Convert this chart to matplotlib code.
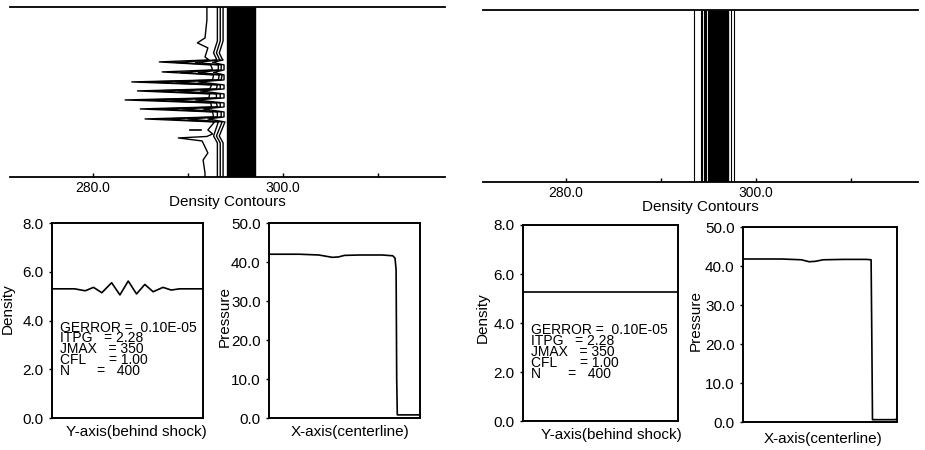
import matplotlib
matplotlib.use('Agg')
import matplotlib.pyplot as plt

plt.rcParams['font.family'] = ['Liberation Sans', 'DejaVu Sans']

# ---- top panels: density contours (x in grid units, y in rows 0..170)
contour_ticks = [280, 300]
contour_minor = [290, 310]

# left panel, wiggly contours ahead of the shock
left_outer_x = [292.0, 292.0, 291.8, 291.0, 292.1, 291.8, 292.2, 287.0, 292.4, 292.6, 287.3, 292.7,
                292.6, 284.1, 292.5, 292.3, 284.7, 292.3, 292.2, 283.4, 292.4, 292.5, 285.0, 292.6,
                292.7, 285.5, 292.8, 292.1, 292.6, 292.0, 289.0, 291.5, 291.8, 292.1, 291.6, 291.8, 291.8]
left_outer_y = [170, 157, 139, 134, 129, 120, 117, 115, 112, 107, 105, 102, 97, 95, 92, 88, 86, 83,
                79, 77, 74, 70, 68, 65, 60, 58, 55, 47, 43, 40.5, 39, 36, 30, 24, 17, 4, 0]

inner_y = [170, 136, 124, 118, 117, 114.5, 112, 107, 104.5, 102, 97, 95, 92, 88, 86, 83,
           79, 77, 74, 70, 68, 65, 60, 58, 55, 41, 34, 0]
inner1_x = [293.1, 293.1, 292.7, 293.0, 293.0, 288.7, 293.2, 293.2, 289.2, 293.3, 293.2, 286.0, 293.1, 293.0,
            286.6, 293.0, 293.0, 285.5, 293.0, 293.1, 287.1, 293.1, 293.1, 287.6, 293.2, 292.7, 293.1, 293.1]
inner2_x = [293.4, 293.4, 293.0, 293.3, 293.4, 290.8, 293.5, 293.5, 291.1, 293.6, 293.5, 288.7, 293.4, 293.4,
            289.0, 293.4, 293.4, 288.1, 293.4, 293.4, 289.4, 293.5, 293.5, 290.0, 293.6, 293.0, 293.4, 293.4]
inner3_x = [293.7, 293.7, 293.3, 293.6, 293.7, 292.6, 293.8, 293.8, 292.7, 293.8, 293.8, 291.1, 293.8, 293.8,
            291.3, 293.8, 293.8, 290.8, 293.8, 293.8, 291.6, 293.8, 293.8, 292.1, 293.9, 293.3, 293.7, 293.7]
island_x = [290.2, 291.4]
island_y = [47, 47]

left_band_x = [294.1, 294.2, 294.3, 294.4, 294.5, 294.6, 294.7, 294.8, 294.9, 295.0, 295.1, 295.2,
               295.3, 295.4, 295.5, 295.6, 295.7, 295.8, 295.9, 296.0, 296.1, 296.2, 296.3, 296.4,
               296.5, 296.6, 296.7, 296.8, 296.9, 297.0, 297.1]

# right panel, straight contours
right_edge_x = [293.5, 294.2, 294.35, 294.5, 294.65, 294.8, 294.95, 297.4, 297.75]
right_band_x = [295.1, 295.2, 295.3, 295.4, 295.5, 295.6, 295.7, 295.8, 295.9, 296.0, 296.1, 296.2,
                296.3, 296.4, 296.5, 296.6, 296.7, 296.8, 296.9, 297.0, 297.1]

# ---- bottom panels
dens_ticks = [0, 2, 4, 6, 8]
dens_ticklabels = ['0.0', '2.0', '4.0', '6.0', '8.0']
pres_ticks = [0, 10, 20, 30, 40, 50]
pres_ticklabels = ['0.0', '10.0', '20.0', '30.0', '40.0', '50.0']

dens_left_x = [0, 15, 22, 27.5, 33, 39.5, 45, 50.5, 56, 61.5, 67, 73.5, 79, 84.5, 100]
dens_left_y = [5.30, 5.30, 5.22, 5.36, 5.14, 5.55, 5.05, 5.62, 5.09, 5.48, 5.18, 5.36, 5.25, 5.30, 5.30]
dens_right_x = [0, 100]
dens_right_y = [5.27, 5.27]

pres_left_x = [0, 20, 33, 42, 46, 50, 60, 75, 82, 83.5, 84.2, 84.6, 85.0, 100]
pres_left_y = [42.0, 42.0, 41.8, 41.2, 41.3, 41.7, 41.8, 41.8, 41.6, 41.0, 38.0, 10.0, 0.8, 0.8]
pres_right_x = [0, 25, 38, 43, 47, 52, 65, 80, 83.2, 83.7, 84.1, 99, 100]
pres_right_y = [41.8, 41.8, 41.6, 41.1, 41.2, 41.6, 41.7, 41.7, 41.6, 20.0, 0.6, 0.6, 0.9]

param_lines = ['GERROR =  0.10E-05',
               'ITPG   = 2.28',
               'JMAX   = 350',
               'CFL      = 1.00',
               'N       =   400']

fig = plt.figure(figsize=(9.25, 4.5), dpi=100)

def contour_axes(rect):
    ax = fig.add_axes(rect)
    ax.set_xlim(271.3, 317.0)
    ax.set_ylim(0, 170)
    for s in ['left', 'right']:
        ax.spines[s].set_visible(False)
    for s in ['top', 'bottom']:
        ax.spines[s].set_linewidth(1.3)
    ax.set_yticks([])
    ax.set_xticks(contour_ticks)
    ax.set_xticklabels(['%.1f' % t for t in contour_ticks], fontsize=10)
    ax.set_xticks(contour_minor, minor=True)
    ax.tick_params(axis='x', which='both', direction='in', length=3, width=1, pad=3)
    ax.set_xlabel('Density Contours', fontsize=11, labelpad=0)
    return ax

ax1 = contour_axes([0.0108, 0.6067, 0.470, 0.378])
ax1.plot(left_outer_x, left_outer_y, color='black', lw=1.0)
for xs in [inner1_x, inner2_x, inner3_x]:
    ax1.plot(xs, inner_y, color='black', lw=1.0)
ax1.plot(island_x, island_y, color='black', lw=1.2)
ax1.vlines(left_band_x, 0, 170, color='black', lw=1.0)

ax2 = contour_axes([0.522, 0.5956, 0.470, 0.382])
ax2.vlines(right_edge_x, 0, 170, color='black', lw=0.8)
ax2.vlines(right_band_x, 0, 170, color='black', lw=1.0)


def profile_axes(rect, ticks, labels, ylim):
    ax = fig.add_axes(rect)
    ax.set_xlim(0, 100)
    ax.set_ylim(*ylim)
    ax.set_xticks([])
    ax.set_yticks(ticks)
    ax.set_yticklabels(labels, fontsize=11)
    ax.tick_params(axis='y', direction='out', length=2, width=1, pad=4)
    for s in ax.spines.values():
        s.set_linewidth(1.4)
    return ax

def add_params(ax):
    ax.text(0.053, 0.50, '\n'.join(param_lines), transform=ax.transAxes,
            fontsize=10, va='top', ha='left', linespacing=0.72)

# left pair
ax3 = profile_axes([0.0562, 0.0711, 0.1632, 0.4333], dens_ticks, dens_ticklabels, (0, 8))
ax3.plot(dens_left_x, dens_left_y, color='black', lw=1.2)
ax3.set_ylabel('Density', fontsize=11)
ax3.yaxis.set_label_coords(-0.245, 0.56)
ax3.set_xlabel('Y-axis(behind shock)', fontsize=11)
ax3.xaxis.set_label_coords(0.56, -0.035)
add_params(ax3)

ax4 = profile_axes([0.2908, 0.0711, 0.1632, 0.4333], pres_ticks, pres_ticklabels, (0, 50))
ax4.plot(pres_left_x, pres_left_y, color='black', lw=1.2)
ax4.set_ylabel('Pressure', fontsize=11)
ax4.yaxis.set_label_coords(-0.25, 0.52)
ax4.set_xlabel('X-axis(centerline)', fontsize=11)
ax4.xaxis.set_label_coords(0.54, -0.035)

# right pair
ax5 = profile_axes([0.5654, 0.0644, 0.1676, 0.4356], dens_ticks, dens_ticklabels, (0, 8))
ax5.plot(dens_right_x, dens_right_y, color='black', lw=1.2)
ax5.set_ylabel('Density', fontsize=11)
ax5.yaxis.set_label_coords(-0.213, 0.525)
ax5.set_xlabel('Y-axis(behind shock)', fontsize=11)
ax5.xaxis.set_label_coords(0.57, -0.035)
add_params(ax5)

ax6 = profile_axes([0.8032, 0.0622, 0.1665, 0.4333], pres_ticks, pres_ticklabels, (0, 50))
ax6.plot(pres_right_x, pres_right_y, color='black', lw=1.2)
ax6.set_ylabel('Pressure', fontsize=11)
ax6.yaxis.set_label_coords(-0.26, 0.52)
ax6.set_xlabel('X-axis(centerline)', fontsize=11)
ax6.xaxis.set_label_coords(0.52, -0.05)

fig.savefig('out.png', dpi=100)
